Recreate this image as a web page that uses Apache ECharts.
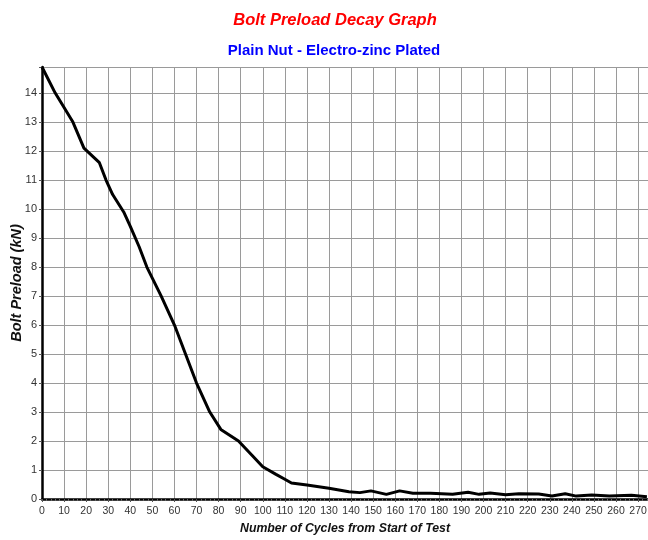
<!DOCTYPE html>
<html>
<head>
<meta charset="utf-8">
<script src="https://cdn.jsdelivr.net/npm/echarts@6/dist/echarts.min.js"></script>
<style>
  html, body { margin: 0; padding: 0; background: #fff; }
  #chart { width: 648px; height: 540px; }
</style>
</head>
<body>
<div id="chart"></div>
<script>
// Cycle count at each sampled reading
const cycles = [0, 6, 14, 19, 26, 29, 32, 37, 40, 44, 47.5, 54, 60, 65, 70, 76, 81, 89, 95, 100,
  106, 110, 113, 120, 130, 139, 144, 149, 156, 162, 168, 176, 186, 193, 198, 203, 210, 216,
  225, 231, 237, 242, 249, 257, 267, 274];
// Measured bolt preload (kN) at those cycles
const preload = [14.9, 14.0, 13.0, 12.1, 11.6, 11.0, 10.5, 9.9, 9.4, 8.7, 8.0, 7.0, 6.0, 5.0, 4.0, 3.0, 2.4, 2.0, 1.52, 1.11,
  0.85, 0.68, 0.55, 0.48, 0.37, 0.25, 0.22, 0.28, 0.16, 0.28, 0.2, 0.2, 0.16, 0.23, 0.16,
  0.21, 0.15, 0.18, 0.17, 0.1, 0.18, 0.1, 0.14, 0.1, 0.13, 0.08];

const xMax = 274.5;
const yMax = 14.9;
const font = '"Liberation Sans", Arial, sans-serif';

const chart = echarts.init(document.getElementById('chart'), null, { renderer: 'canvas' });

chart.setOption({
  backgroundColor: '#ffffff',
  animation: false,
  title: [
    {
      text: 'Bolt Preload Decay Graph',
      left: 330, top: 7, textAlign: 'center',
      textStyle: { color: '#ff0000', fontSize: 16.5, fontWeight: 'bold', fontStyle: 'italic', fontFamily: font }
    },
    {
      text: 'Plain Nut - Electro-zinc Plated',
      left: 329, top: 38, textAlign: 'center',
      textStyle: { color: '#0000ff', fontSize: 15, fontWeight: 'bold', fontFamily: font }
    }
  ],
  grid: { left: 42, top: 67, right: 0, bottom: 41, containLabel: false, outerBoundsMode: 'none' },
  xAxis: {
    type: 'value',
    min: 0, max: xMax, interval: 10,
    name: 'Number of Cycles from Start of Test',
    nameLocation: 'middle', nameGap: 24, nameMoveOverlap: false,
    nameTextStyle: { color: '#111', fontSize: 12.3, fontWeight: 'bold', fontStyle: 'italic', fontFamily: font },
    axisLine: { show: true, lineStyle: { color: '#000', width: 2.5 } },
    axisTick: { show: true, length: 3, lineStyle: { color: '#555' } },
    minorTick: { show: true, splitNumber: 5, length: 2, lineStyle: { color: '#666' } },
    axisLabel: {
      color: '#333', fontSize: 10.5, fontFamily: font, margin: 7,
      formatter: v => (v % 10 === 0 ? String(v) : '')
    },
    splitLine: { show: true, lineStyle: { color: '#9a9a9a', width: 1 } }
  },
  yAxis: {
    type: 'value',
    min: 0, max: yMax, interval: 1,
    name: 'Bolt Preload (kN)',
    nameLocation: 'middle', nameGap: 18, nameRotate: 90, nameMoveOverlap: false,
    nameTextStyle: { color: '#111', fontSize: 14.5, fontWeight: 'bold', fontStyle: 'italic', fontFamily: font },
    axisLine: { show: true, lineStyle: { color: '#000', width: 2.5 } },
    axisTick: { show: true, length: 3, lineStyle: { color: '#555' } },
    axisLabel: {
      color: '#333', fontSize: 11, fontFamily: font, margin: 5,
      formatter: v => (Number.isInteger(v) ? String(v) : '')
    },
    splitLine: { show: true, lineStyle: { color: '#9a9a9a', width: 1 } }
  },
  series: [{
    type: 'line',
    data: cycles.map((c, i) => [c, preload[i]]),
    showSymbol: false,
    smooth: false,
    lineStyle: { color: '#000', width: 3 },
    clip: true
  }]
});
</script>
</body>
</html>
